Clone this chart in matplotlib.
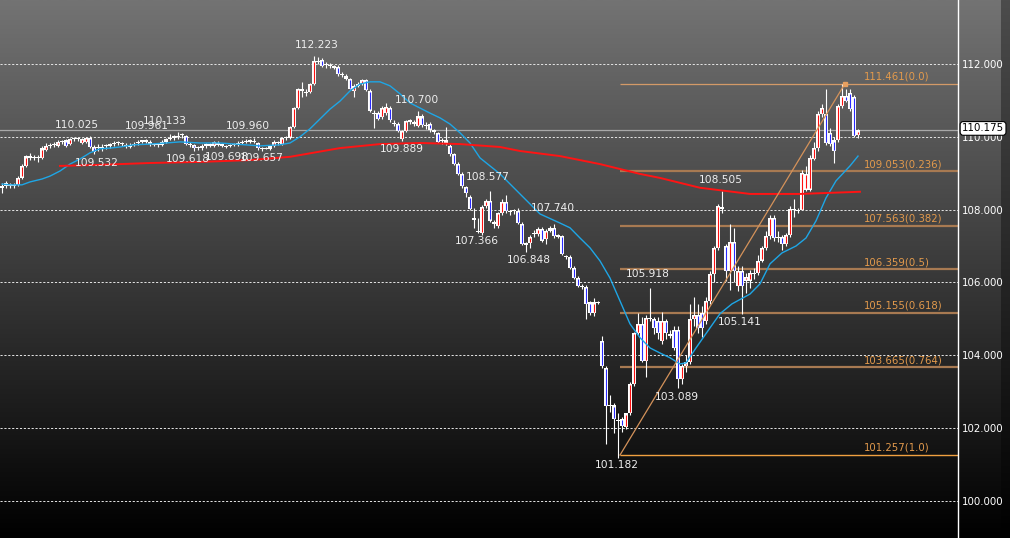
import numpy as np
import matplotlib
matplotlib.use("Agg")
import matplotlib.pyplot as plt
from matplotlib.colors import LinearSegmentedColormap

# ---------------- data ----------------
opens = [108.58, 108.72, 108.66, 108.66, 108.68, 108.88, 109.20, 109.44, 109.43, 109.42,
         109.42, 109.64, 109.76, 109.78, 109.76, 109.86, 109.90, 109.80, 109.93, 109.94,
         109.83, 109.85, 109.96, 109.72, 109.68, 109.70, 109.74, 109.76, 109.80, 109.83,
         109.80, 109.77, 109.72, 109.78, 109.82, 109.87, 109.88, 109.86, 109.80, 109.78,
         109.78, 109.86, 109.94, 109.98, 109.99, 110.04, 110.03, 109.80, 109.78, 109.70,
         109.70, 109.76, 109.77, 109.76, 109.84, 109.78, 109.74, 109.74, 109.78, 109.80,
         109.84, 109.86, 109.88, 109.86, 109.82, 109.67, 109.66, 109.66, 109.74, 109.84,
         109.80, 109.97, 109.98, 110.26, 110.79, 111.30, 111.24, 111.24, 111.45, 112.07,
         112.10, 111.98, 111.98, 111.94, 111.92, 111.72, 111.66, 111.58, 111.25, 111.40,
         111.45, 111.55, 111.26, 110.64, 110.66, 110.55, 110.66, 110.80, 110.38, 110.36,
         109.95, 110.16, 110.42, 110.36, 110.30, 110.56, 110.32, 110.35, 110.18, 110.10,
         109.88, 109.90, 109.76, 109.52, 109.26, 108.98, 108.62, 108.34, 107.76, 107.40,
         107.35, 108.10, 108.24, 107.66, 107.55, 107.90, 108.20, 107.95, 107.96, 107.96,
         107.60, 107.06, 107.08, 107.34, 107.33, 107.47, 107.20, 107.42, 107.50, 107.28,
         107.27, 106.72, 106.70, 106.40, 106.13, 105.89, 105.88, 105.45, 105.15, 105.44,
         104.40, 103.65, 102.62, 102.62, 102.22, 102.25, 102.03, 102.40, 103.20, 104.60,
         104.87, 103.85, 105.00, 105.00, 104.95, 104.40, 104.95, 104.56, 104.70, 104.70,
         103.35, 103.70, 103.80, 105.00, 105.10, 105.15, 104.95, 105.50, 106.22, 106.95,
         108.08, 107.00, 106.32, 107.10, 105.90, 106.32, 106.05, 106.05, 106.23, 106.25,
         106.60, 106.95, 107.28, 107.78, 107.22, 107.25, 107.05, 107.30, 108.02, 107.95,
         108.00, 108.55, 108.55, 109.40, 109.70, 110.63, 110.63, 110.10, 109.90, 109.90,
         110.85, 111.12, 111.20, 111.10, 110.05]
highs = [108.72, 108.78, 108.74, 108.72, 108.92, 109.25, 109.50, 109.55, 109.50, 109.50,
         109.76, 109.82, 109.84, 109.86, 109.90, 109.92, 109.95, 109.96, 109.98, 109.99,
         109.98, 110.00, 110.025, 109.78, 109.80, 109.80, 109.80, 109.84, 109.88, 109.88,
         109.86, 109.82, 109.82, 109.86, 109.90, 109.92, 109.93, 109.90, 109.84, 109.84,
         109.90, 109.96, 110.08, 110.05, 110.133, 110.10, 110.06, 109.85, 109.80, 109.76,
         109.80, 109.82, 109.82, 109.88, 109.88, 109.82, 109.78, 109.80, 109.84, 109.88,
         109.90, 109.93, 109.94, 109.96, 109.86, 109.72, 109.72, 109.78, 109.90, 109.88,
         110.00, 110.03, 110.30, 110.82, 111.35, 111.50, 111.32, 111.48, 112.223, 112.18,
         112.16, 112.06, 112.04, 111.98, 111.96, 111.78, 111.72, 111.62, 111.44, 111.50,
         111.58, 111.60, 111.30, 110.74, 110.72, 110.84, 110.92, 110.84, 110.45, 110.40,
         110.18, 110.46, 110.50, 110.46, 110.70, 110.62, 110.40, 110.40, 110.22, 110.14,
         109.98, 110.27, 109.80, 109.56, 109.30, 109.02, 108.66, 108.40, 108.05, 107.78,
         108.12, 108.30, 108.50, 107.72, 107.94, 108.30, 108.40, 108.00, 108.02, 108.05,
         107.65, 107.12, 107.30, 107.44, 107.52, 107.52, 107.48, 107.56, 107.60, 107.32,
         107.30, 106.76, 106.74, 106.44, 106.18, 105.95, 105.92, 105.50, 105.58, 105.48,
         104.53, 103.70, 102.90, 102.70, 102.40, 102.30, 102.42, 103.25, 104.65, 105.15,
         105.05, 105.10, 105.85, 105.05, 105.05, 105.20, 105.00, 104.70, 104.80, 104.80,
         103.75, 104.00, 105.40, 105.60, 105.40, 105.35, 105.60, 106.30, 107.00, 108.15,
         108.505, 107.05, 107.60, 107.50, 106.45, 106.45, 106.25, 106.35, 106.40, 106.75,
         107.00, 107.40, 107.85, 107.85, 107.40, 107.30, 107.35, 108.10, 108.30, 108.05,
         109.10, 109.20, 109.50, 109.85, 110.70, 110.90, 111.30, 110.25, 110.00, 110.90,
         111.461, 111.30, 111.30, 111.15, 110.22]
lows = [108.45, 108.60, 108.60, 108.58, 108.64, 108.85, 109.18, 109.35, 109.36, 109.32,
        109.38, 109.60, 109.70, 109.72, 109.72, 109.80, 109.72, 109.78, 109.88, 109.88,
        109.80, 109.82, 109.70, 109.532, 109.60, 109.62, 109.66, 109.70, 109.75, 109.77,
        109.76, 109.70, 109.68, 109.74, 109.78, 109.82, 109.82, 109.76, 109.74, 109.72,
        109.74, 109.82, 109.90, 109.92, 109.95, 109.98, 109.78, 109.72, 109.618, 109.64,
        109.65, 109.70, 109.72, 109.72, 109.74, 109.72, 109.698, 109.72, 109.74, 109.76,
        109.80, 109.82, 109.83, 109.82, 109.64, 109.62, 109.657, 109.64, 109.72, 109.78,
        109.78, 109.92, 109.95, 110.24, 110.76, 111.10, 111.12, 111.20, 111.42, 112.00,
        111.92, 111.90, 111.90, 111.86, 111.66, 111.64, 111.56, 111.30, 111.10, 111.36,
        111.42, 111.25, 110.68, 110.25, 110.45, 110.50, 110.60, 110.40, 110.30, 110.12,
        109.889, 110.12, 110.36, 110.30, 110.26, 110.28, 110.22, 110.14, 110.08, 109.82,
        109.80, 109.78, 109.48, 109.22, 108.95, 108.60, 108.35, 107.98, 107.50, 107.366,
        107.30, 108.05, 107.66, 107.50, 107.50, 107.85, 107.90, 107.85, 107.88, 107.60,
        107.02, 106.848, 106.95, 107.25, 107.28, 107.12, 107.05, 107.38, 107.22, 107.22,
        106.75, 106.64, 106.36, 106.10, 105.86, 105.82, 105.00, 105.10, 105.08, 105.40,
        103.65, 101.57, 102.45, 101.86, 101.182, 101.90, 101.98, 102.36, 103.15, 104.55,
        103.80, 103.40, 104.95, 104.58, 104.45, 104.30, 104.45, 104.48, 104.15, 103.089,
        103.20, 103.55, 103.75, 104.80, 104.60, 104.50, 104.85, 105.40, 106.00, 106.90,
        107.90, 106.05, 105.80, 106.00, 105.75, 105.141, 105.70, 105.85, 106.10, 106.20,
        106.55, 106.90, 107.20, 107.15, 107.10, 106.90, 107.00, 107.25, 107.80, 107.90,
        107.98, 108.50, 108.50, 109.35, 109.60, 110.55, 109.78, 109.75, 109.28, 109.85,
        110.80, 110.95, 110.70, 110.00, 109.98]
closes = [108.66, 108.64, 108.67, 108.65, 108.88, 109.20, 109.46, 109.43, 109.42, 109.41,
          109.68, 109.76, 109.75, 109.80, 109.86, 109.85, 109.75, 109.93, 109.94, 109.93,
          109.94, 109.97, 109.72, 109.57, 109.70, 109.73, 109.75, 109.79, 109.83, 109.82,
          109.80, 109.75, 109.78, 109.81, 109.86, 109.88, 109.87, 109.80, 109.78, 109.77,
          109.86, 109.93, 109.98, 109.99, 110.03, 110.05, 109.80, 109.78, 109.68, 109.71,
          109.76, 109.77, 109.76, 109.85, 109.77, 109.76, 109.73, 109.78, 109.80, 109.83,
          109.86, 109.88, 109.87, 109.85, 109.68, 109.66, 109.68, 109.74, 109.86, 109.82,
          109.97, 109.98, 110.27, 110.79, 111.31, 111.26, 111.21, 111.45, 112.08, 112.05,
          111.95, 112.00, 111.95, 111.90, 111.72, 111.70, 111.60, 111.30, 111.40, 111.45,
          111.55, 111.28, 110.72, 110.62, 110.50, 110.80, 110.82, 110.45, 110.35, 110.16,
          110.16, 110.43, 110.42, 110.42, 110.56, 110.32, 110.30, 110.20, 110.12, 109.86,
          109.90, 109.84, 109.52, 109.26, 108.98, 108.65, 108.45, 108.02, 107.72, 107.38,
          108.08, 108.24, 107.70, 107.60, 107.90, 108.20, 107.95, 107.94, 107.98, 107.63,
          107.05, 107.04, 107.26, 107.36, 107.47, 107.15, 107.42, 107.50, 107.27, 107.26,
          106.78, 106.70, 106.40, 106.13, 105.90, 105.88, 105.40, 105.15, 105.45, 105.45,
          103.70, 102.60, 102.60, 102.25, 102.20, 102.05, 102.40, 103.20, 104.60, 104.86,
          103.85, 105.03, 105.02, 104.75, 104.60, 104.95, 104.60, 104.54, 104.20, 103.35,
          103.70, 103.80, 105.00, 105.10, 104.75, 104.75, 105.50, 106.22, 106.95, 108.10,
          108.02, 106.32, 107.10, 106.32, 106.32, 105.90, 106.15, 106.25, 106.23, 106.59,
          106.95, 107.28, 107.78, 107.22, 107.21, 107.05, 107.30, 108.02, 107.98, 108.00,
          109.00, 108.99, 109.42, 109.70, 110.63, 110.80, 109.83, 109.80, 109.60, 110.85,
          111.12, 110.98, 110.75, 110.03, 110.175]

# blue moving average, read at bar positions
ma_fast_x = [0, 2, 5, 7, 10, 12, 14.5, 17, 19.5, 22, 24.5, 27, 29.5, 33, 37, 41, 44.5, 49.5,
             54.5, 59.5, 64.5, 69.5, 72, 74.5, 77, 79.5, 82, 84.5, 87, 89.5, 92, 94.5, 97,
             99.5, 102, 104.5, 107, 109.5, 112, 114.5, 117, 119.5, 124.5, 129.5, 134.5,
             139.5, 142, 144.5, 147, 149.5, 152, 154.5, 157, 159.5, 162, 164.5, 167, 169.5,
             171, 173.5, 177, 179.5, 182.5, 187, 189.5, 192, 195, 198.5, 201, 203.5, 206,
             208.5, 212, 214]
ma_fast = [108.70, 108.68, 108.68, 108.76, 108.84, 108.92, 109.06, 109.25, 109.39, 109.56,
           109.67, 109.69, 109.72, 109.78, 109.80, 109.83, 109.86, 109.83, 109.83, 109.79,
           109.75, 109.78, 109.83, 110.00, 110.22, 110.49, 110.76, 110.98, 111.26, 111.45,
           111.51, 111.51, 111.40, 111.18, 110.93, 110.79, 110.65, 110.52, 110.35, 110.11,
           109.83, 109.42, 108.98, 108.43, 107.88, 107.63, 107.50, 107.22, 106.95, 106.59,
           106.12, 105.49, 104.86, 104.48, 104.20, 104.06, 103.93, 103.76, 103.79, 104.20,
           104.75, 105.14, 105.41, 105.68, 105.96, 106.51, 106.81, 107.00, 107.22, 107.69,
           108.32, 108.79, 109.20, 109.47]

# red long moving average
ma_slow_x = [14.5, 24.5, 37, 49.5, 62, 72, 84.5, 94.5, 104.5, 114.5, 124.5, 129.5, 139.5,
             149.5, 159.5, 164.5, 174.5, 187, 199.5, 207, 214.5]
ma_slow = [109.20, 109.23, 109.28, 109.31, 109.36, 109.45, 109.69, 109.80, 109.83, 109.80,
           109.72, 109.61, 109.47, 109.25, 108.98, 108.87, 108.60, 108.43, 108.43, 108.46,
           108.49]

fib_levels = [111.461, 109.053, 107.563, 106.359, 105.155, 103.665, 101.257]
fib_ratios = ["0.0", "0.236", "0.382", "0.5", "0.618", "0.764", "1.0"]

swing_texts = ["112.223", "110.025", "109.961", "110.133", "109.960", "109.532", "109.618",
               "109.698", "109.657", "110.700", "109.889", "108.577", "107.740", "107.366",
               "106.848", "105.918", "108.505", "105.141", "103.089", "101.182"]
swing_x = [78.75, 18.75, 36.25, 40.75, 61.5, 23.75, 46.5, 56.25, 65, 103.75, 100, 121.5,
           137.75, 118.75, 131.75, 161.5, 179.75, 184.5, 168.75, 153.75]
swing_y = [112.52, 110.32, 110.30, 110.43, 110.30, 109.28, 109.39, 109.45, 109.42, 111.01,
           109.66, 108.90, 108.04, 107.14, 106.62, 106.23, 108.81, 104.91, 102.85, 100.98]

last_price = 110.175
y_ticks = [100, 102, 104, 106, 108, 110, 112]

# ---------------- figure ----------------
W, H = 1010, 538
fig = plt.figure(figsize=(W / 100, H / 100), dpi=100)

bg = fig.add_axes([0, 0, 1, 1])
bg.set_axis_off()
cmap = LinearSegmentedColormap.from_list("g", ["#000000", "#3a3a3a", "#737373"])
grad = np.linspace(0, 1, 256).reshape(-1, 1)
bg.imshow(grad, aspect="auto", cmap=cmap, origin="lower", extent=[0, 1, 0, 1])
cmap2 = LinearSegmentedColormap.from_list("g2", ["#000000", "#262626", "#4c4c4c"])
bg.imshow(grad, aspect="auto", cmap=cmap2, origin="lower", extent=[1001 / W, 1, 0, 1])
bg.set_xlim(0, 1)
bg.set_ylim(0, 1)

ax = fig.add_axes([0, 0, 958 / W, 1])
ax.patch.set_alpha(0)
ax.set_xlim(-0.5, 239)
ax.set_ylim(98.978, 113.758)

for s in ["top", "left", "bottom"]:
    ax.spines[s].set_visible(False)
ax.spines["right"].set_color("white")
ax.spines["right"].set_linewidth(1.0)
ax.set_xticks([])
ax.yaxis.tick_right()
ax.set_yticks(y_ticks)
ax.set_yticklabels([f"{v:.3f}" for v in y_ticks])
ax.tick_params(axis="y", length=0, pad=3, labelcolor="white", labelsize=7.4)

for v in y_ticks:
    ax.axhline(v, color="#e6e6e6", lw=0.7, ls=(0, (2.2, 1.8)), zorder=1)

# current price line
ax.axhline(last_price, color="#a8a8a8", lw=0.9, zorder=1)

# fibonacci
x_fib0 = 154.5
for lvl, r in zip(fib_levels, fib_ratios):
    if r in ("0.0",):
        col, lw = "#d49a68", 0.9
    elif r == "1.0":
        col, lw = "#f0a040", 1.0
    else:
        col, lw = "#a87a52", 1.6
    ax.plot([x_fib0, 239], [lvl, lvl], color=col, lw=lw, zorder=2, solid_capstyle="butt")
    ax.text(215.5, lvl + 0.06, f"{lvl:.3f}({r})", color="#e39a4c", fontsize=7.3,
            ha="left", va="bottom", zorder=6)
ax.plot([x_fib0, 210.75], [fib_levels[-1], fib_levels[0]], color="#d4925a", lw=0.9, zorder=5)
ax.plot([210.75], [fib_levels[0]], marker="s", ms=3.5, color="#e8a060", zorder=6)

# candles
o = np.array(opens); h = np.array(highs); l = np.array(lows); c = np.array(closes)
x = np.arange(len(o))
ax.vlines(x, l, h, color="white", lw=0.8, zorder=3)
bot = np.minimum(o, c)
top = np.maximum(o, c)
hgt = np.maximum(top - bot, 0.03)
ax.bar(x, hgt, bottom=bot, width=0.8, color="white", linewidth=0, zorder=3.5)
pad = 0.03
up = (c > o) & (top - bot > 0.08)
dn = (c < o) & (top - bot > 0.08)
ax.vlines(x[up], bot[up] + pad, top[up] - pad, color="#ff1010", lw=0.8, zorder=3.6)
ax.vlines(x[dn], bot[dn] + pad, top[dn] - pad, color="#2a2aff", lw=0.8, zorder=3.6)

# moving averages
ax.plot(ma_fast_x, ma_fast, color="#1ea6e6", lw=1.0, zorder=4)
ax.plot(ma_slow_x, ma_slow, color="#ff1414", lw=1.4, zorder=4)

# swing labels
for t, sx, sy in zip(swing_texts, swing_x, swing_y):
    ax.text(sx, sy, t, color="#eeeeee", fontsize=7.7, ha="center", va="center", zorder=7)

# price tag
ax.annotate(f"{last_price:.3f}", xy=(1.0, last_price), xycoords=("axes fraction", "data"),
            xytext=(4, 2), textcoords="offset pixels", ha="left", va="center",
            fontsize=7.4, color="black", annotation_clip=False, zorder=10,
            bbox=dict(boxstyle="round,pad=0.18,rounding_size=0.3", fc="white", ec="black", lw=0.8))

fig.savefig("out.png", dpi=100)
